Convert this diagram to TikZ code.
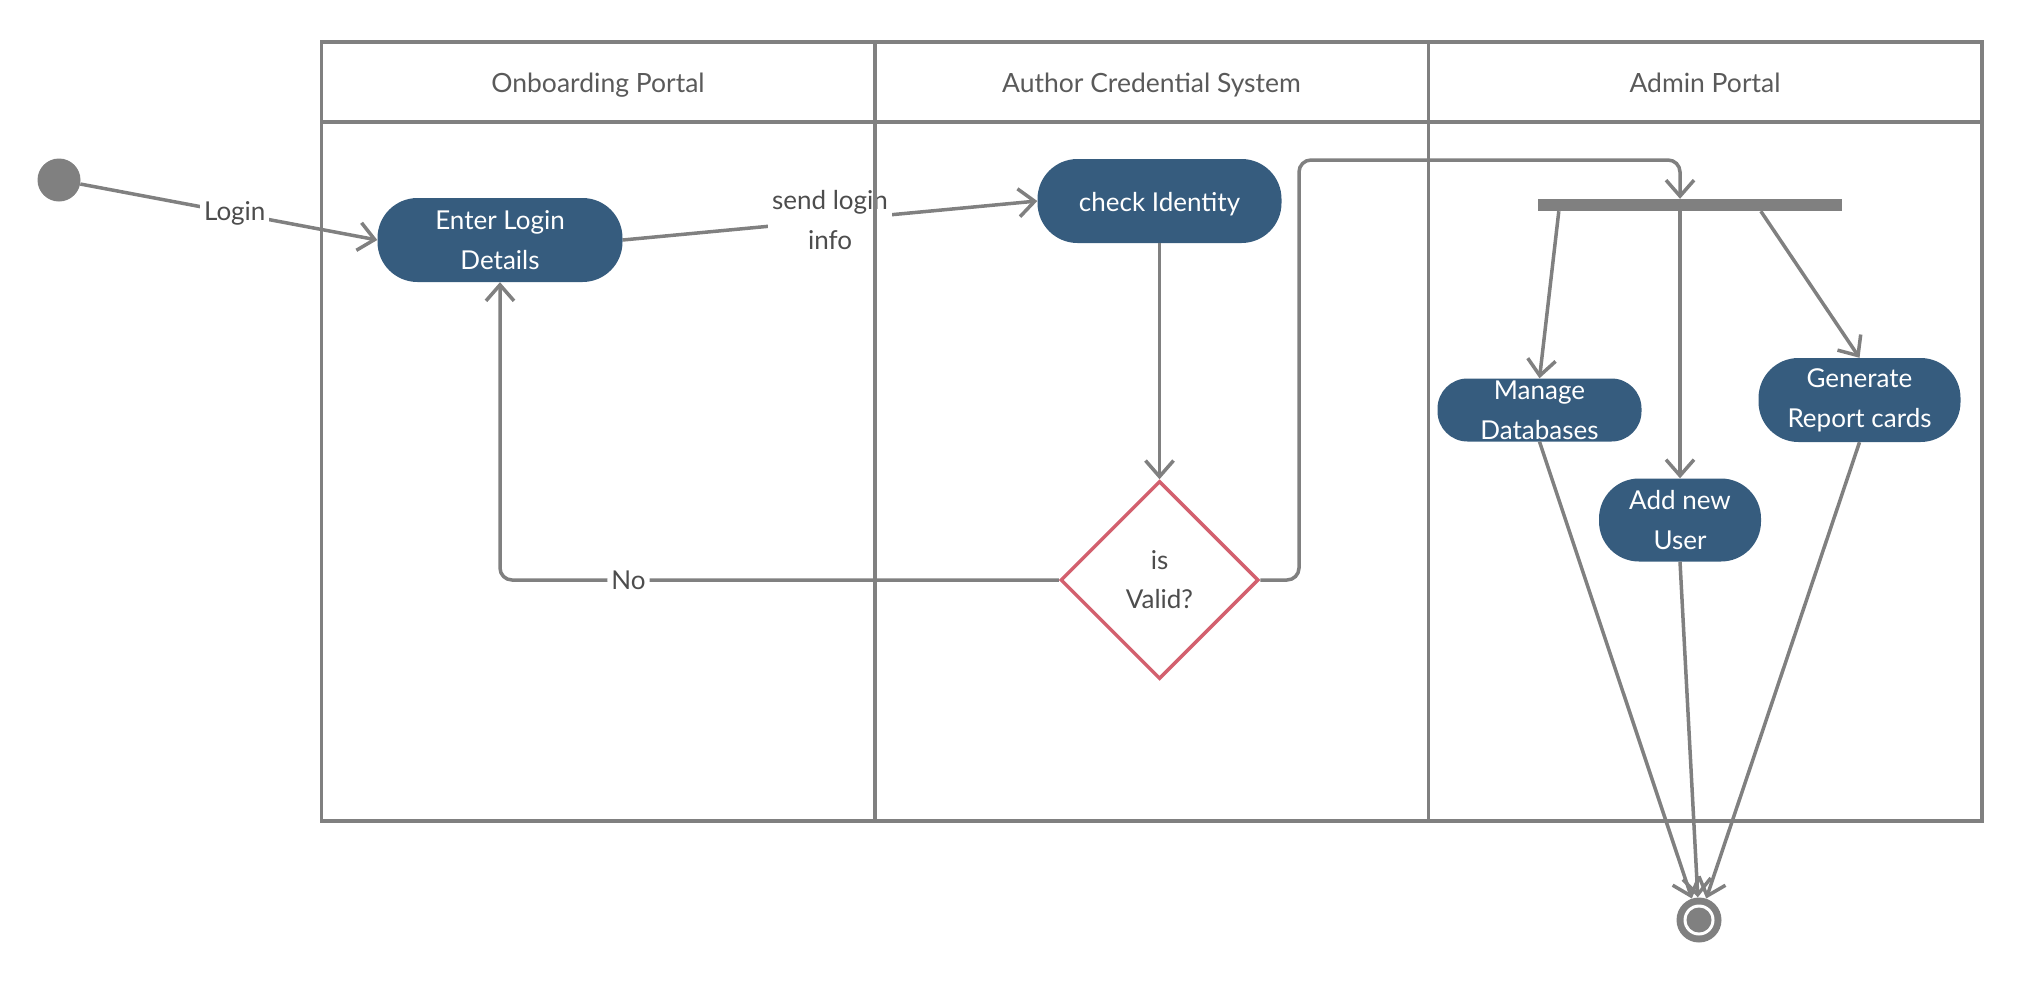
\documentclass[tikz,border=0pt]{standalone}
\usepackage{fontspec}
\setmainfont{Lato}
\usetikzlibrary{arrows.meta,shapes.geometric,calc}
\definecolor{ln}{HTML}{808080}
\definecolor{nodefill}{HTML}{365C7E}
\definecolor{diared}{HTML}{D3606E}
\definecolor{txt}{HTML}{4D4D4D}
\definecolor{hdr}{HTML}{5A5A5A}
\begin{document}
\begin{tikzpicture}[x=1pt,y=-1pt,
  lane/.style={draw=ln,line width=3.5pt,minimum width=553.5pt,inner sep=0pt,anchor=north west},
  hdrtext/.style={text=hdr,font=\fontsize{26.5}{30}\selectfont,text depth=0pt,text height=20pt,yshift=-0.5pt},
  act/.style={fill=nodefill,rounded corners=40pt,text=white,align=center,inner sep=0pt,font=\fontsize{26}{40}\selectfont},
  conn/.style={draw=ln,line width=3.5pt,-{Straight Barb[length=16pt,width=28pt,line width=3.5pt]}},
  lbl/.style={fill=white,text=txt,align=center,font=\fontsize{26}{40}\selectfont,inner sep=4pt},
  dot/.style={circle,fill=ln,inner sep=0pt},
]
\useasboundingbox (0,0) rectangle (2020,980);

% nodes
\node[dot,minimum size=43pt] (start) at (59,180) {};
\node[act,minimum width=245pt,minimum height=84pt] (enter) at (500,240) {Enter Login\\Details};
\node[act,minimum width=244pt,minimum height=84pt,text height=21pt,text depth=0pt] (check) at (1159.5,201) {check Identity};
\node[diamond,draw=diared,line width=3.5pt,minimum width=198pt,minimum height=198pt,inner sep=0pt,
      text=txt,align=center,font=\fontsize{26}{39}\selectfont] (dia) at (1159.5,580) {is\\Valid?};
\node[fill=ln,minimum width=304pt,minimum height=12pt,inner sep=0pt] (fork) at (1690,205) {};
\node[act,rounded corners=30pt,minimum width=204pt,minimum height=63pt] (manage) at (1539.5,410) {Manage\\Databases};
\node[act,minimum width=162pt,minimum height=83pt] (addu) at (1680,520) {Add new\\User};
\node[act,minimum width=202pt,minimum height=84pt] (gen) at (1859.5,400) {Generate\\Report cards};
\node[dot,minimum size=45pt] (end) at (1699,920) {};
\fill[white] (end.center) circle (15.5);
\fill[ln] (end.center) circle (12.5);

% connectors
\coordinate (j1) at (1299,160);
\coordinate (f1) at ($(fork.south west)+(21,0)$);
\coordinate (f3) at ($(fork.south west)+(223,0)$);
\draw[conn] (start) -- node[lbl,pos=0.52] {Login} (enter.west);
\draw[conn] (enter.east) -- node[lbl] {send login\\info} (check.west);
\draw[conn] (check) -- (dia);
\draw[conn,rounded corners=12pt] (dia.west) -| node[lbl,pos=0.385] {No} (enter.south);
\draw[conn,rounded corners=12pt] (dia.east) -| (j1) -| (fork.north -| addu.north);
\draw[conn] (fork.south -| addu.north) -- (addu.north);
\draw[conn] (f1) -- (manage.north);
\draw[conn] (f3) -- (gen.north);
\draw[conn] (manage.south) -- (end);
\draw[conn] (addu.south) -- (end);
\draw[conn] (gen.south) -- (end);

% swimlanes (drawn on top)
\node[lane,minimum height=80pt] (h1) at (319.5,40) {};
\node[lane,minimum height=80pt] (h2) at (873,40) {};
\node[lane,minimum height=80pt] (h3) at (1426.5,40) {};
\node[hdrtext] at (h1.center) {Onboarding Portal};
\node[hdrtext] at (h2.center) {Author Credential System};
\node[hdrtext] at (h3.center) {Admin Portal};
\node[lane,minimum height=699pt] (b1) at (319.5,120) {};
\node[lane,minimum height=699pt] (b2) at (873,120) {};
\node[lane,minimum height=699pt] (b3) at (1426.5,120) {};
\end{tikzpicture}
\end{document}
